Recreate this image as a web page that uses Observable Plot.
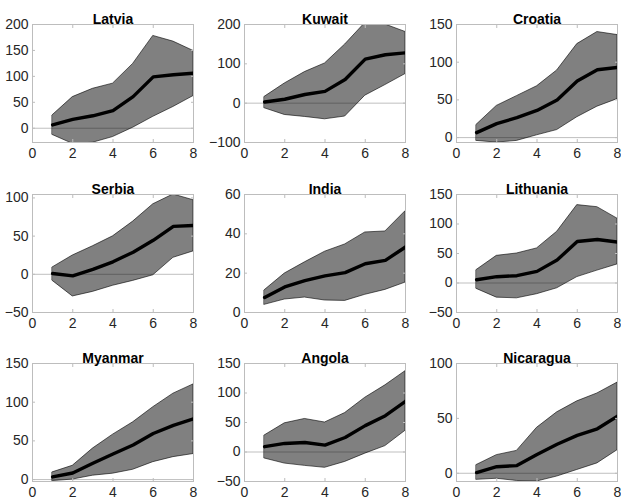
<!DOCTYPE html>
<html>
<head>
<meta charset="utf-8">
<script src="https://cdn.jsdelivr.net/npm/d3@7"></script>
<script src="https://cdn.jsdelivr.net/npm/@observablehq/plot@0.6"></script>
<style>
  html, body { margin: 0; padding: 0; background: #fff; }
  #chart { position: relative; width: 621px; height: 501px; overflow: hidden; font-family: "Liberation Sans", Arial, sans-serif; }
  .panel { position: absolute; }
</style>
</head>
<body>
<div id="chart"></div>
<script>
const horizons = [1, 2, 3, 4, 5, 6, 7, 8];
const xTicks = [0, 2, 4, 6, 8];
const countries = ["Latvia", "Kuwait", "Croatia", "Serbia", "India", "Lithuania", "Myanmar", "Angola", "Nicaragua"];

const meanLatvia = [6.4, 17, 24, 34, 61, 99, 103, 106];
const lowLatvia  = [-13, -30, -28, -17, 1, 22, 41, 62];
const highLatvia = [25, 60, 76, 86, 124, 178, 167, 149];

const meanKuwait = [3, 10, 22, 30, 60, 112, 123, 128];
const lowKuwait  = [-13, -30, -35, -41, -34, 19, 46, 74];
const highKuwait = [16, 50, 79, 101, 149, 204, 200, 181];

const meanCroatia = [6.6, 18.5, 26.5, 36, 50, 75, 90, 93];
const lowCroatia  = [-4.4, -6.6, -4.4, 3, 10, 27, 41, 51];
const highCroatia = [17, 42, 55, 68, 89, 124, 140, 136];

const meanSerbia = [1, -2, 6.5, 16.4, 29, 44.5, 62.7, 64];
const lowSerbia  = [-8.6, -29, -23, -15, -8.6, -1.3, 21.6, 30];
const highSerbia = [9, 24.6, 36.7, 49.7, 69, 91.7, 104.5, 97];

const meanIndia = [7.6, 13, 16.2, 18.6, 20.3, 24.8, 26.5, 33.3];
const lowIndia  = [3.9, 6.6, 7.6, 6.1, 5.9, 9, 11.5, 15.2];
const highIndia = [11.3, 19.8, 25.5, 30.9, 34.6, 40.7, 41.2, 51.5];

const meanLithuania = [5.6, 10.7, 12.4, 19.7, 38.9, 70.4, 73.8, 69.3];
const lowLithuania  = [-10, -24.8, -26, -19, -9, 10, 21, 31.5];
const highLithuania = [22, 46, 50, 58.6, 86.8, 132, 128.5, 109];

const meanMyanmar = [3.4, 8.5, 21, 33, 44.6, 59.5, 70, 78.6];
const lowMyanmar  = [-2, 0, 5, 7.6, 12.7, 22.5, 29, 33];
const highMyanmar = [9.3, 17.8, 40, 58, 74, 93.5, 111, 123];

const meanAngola = [9, 14.5, 16, 11.7, 24.6, 44.7, 61.5, 86];
const lowAngola  = [-11, -19.6, -23.5, -26.8, -16.8, -2.8, 10, 36];
const highAngola = [28, 48.6, 56, 50, 66, 92, 113, 137];

const meanNicaragua = [0.6, 6, 7, 17, 26.4, 34.5, 40.5, 52];
const lowNicaragua  = [-6, -5, -7, -7.5, -3, 3, 9, 21];
const highNicaragua = [7.5, 16.5, 20.4, 41.4, 55.5, 65.5, 72.7, 82.6];

const yDomains = [[-27.5, 200], [-100, 200], [-6.5, 150], [-50, 104.5], [0, 60], [-50, 150], [-2.5, 150], [-50, 150], [-7.5, 100]];
const yTicks = [[0, 50, 100, 150, 200], [-100, 0, 100, 200], [0, 50, 100, 150], [-50, 0, 50, 100], [0, 20, 40, 60], [-50, 0, 50, 100, 150], [0, 50, 100, 150], [-50, 0, 50, 100, 150], [0, 50, 100]];

const series = [
  [meanLatvia, lowLatvia, highLatvia],
  [meanKuwait, lowKuwait, highKuwait],
  [meanCroatia, lowCroatia, highCroatia],
  [meanSerbia, lowSerbia, highSerbia],
  [meanIndia, lowIndia, highIndia],
  [meanLithuania, lowLithuania, highLithuania],
  [meanMyanmar, lowMyanmar, highMyanmar],
  [meanAngola, lowAngola, highAngola],
  [meanNicaragua, lowNicaragua, highNicaragua]
];

// layout
const colLeft = [32, 244, 456];
const rowTop = [24, 194, 363];
const frameW = 161, frameH = 118;
const mL = 32, mR = 5, mT = 24, mB = 20;
const frameColor = "#bdbdbd";
const textColor = "#262626";

const chart = document.getElementById("chart");

countries.forEach((name, i) => {
  const [mean, lo, hi] = series[i];
  const data = horizons.map((h, j) => ({h, mean: mean[j], lo: lo[j], hi: hi[j]}));
  const col = i % 3, row = Math.floor(i / 3);
  const svg = Plot.plot({
    width: mL + frameW + mR,
    height: mT + frameH + mB,
    marginLeft: mL, marginRight: mR, marginTop: mT, marginBottom: mB,
    style: {fontFamily: "'Liberation Sans', Arial, sans-serif", fontSize: "14px", background: "transparent", overflow: "visible"},
    x: {domain: [0, 8]},
    y: {domain: yDomains[i]},
    marks: [
      Plot.areaY(data, {x: "h", y1: "lo", y2: "hi", fill: "#808080", stroke: "black", strokeWidth: 0.6, clip: true}),
      Plot.ruleY([0], {stroke: "black", strokeOpacity: 0.25, strokeWidth: 1}),
      Plot.lineY(data, {x: "h", y: "mean", stroke: "black", strokeWidth: 3.4, clip: true}),
      Plot.frame({stroke: frameColor, strokeWidth: 1}),
      // inward ticks on all four sides
      Plot.axisX({anchor: "bottom", ticks: xTicks, tickSize: -3, stroke: frameColor, fill: "none", label: null}),
      Plot.axisX({anchor: "top", ticks: xTicks, tickSize: -3, stroke: frameColor, fill: "none", label: null}),
      Plot.axisY({anchor: "left", ticks: yTicks[i], tickSize: -3, stroke: frameColor, fill: "none", label: null}),
      Plot.axisY({anchor: "right", ticks: yTicks[i], tickSize: -3, stroke: frameColor, fill: "none", label: null}),
      // tick labels
      Plot.axisX({anchor: "bottom", ticks: xTicks, tickSize: 0, tickPadding: 6, fill: textColor, fontSize: 14, label: null}),
      Plot.axisY({anchor: "left", ticks: yTicks[i], tickSize: 0, tickPadding: 4, fill: textColor, fontSize: 14, label: null}),
      // title
      Plot.text([name], {text: d => d, frameAnchor: "top", dy: -10, fontWeight: "bold", fontSize: 14, fill: "black"})
    ]
  });
  svg.classList.add("panel");
  svg.style.left = (colLeft[col] - mL) + "px";
  svg.style.top = (rowTop[row] - mT) + "px";
  chart.appendChild(svg);
});
</script>
</body>
</html>
